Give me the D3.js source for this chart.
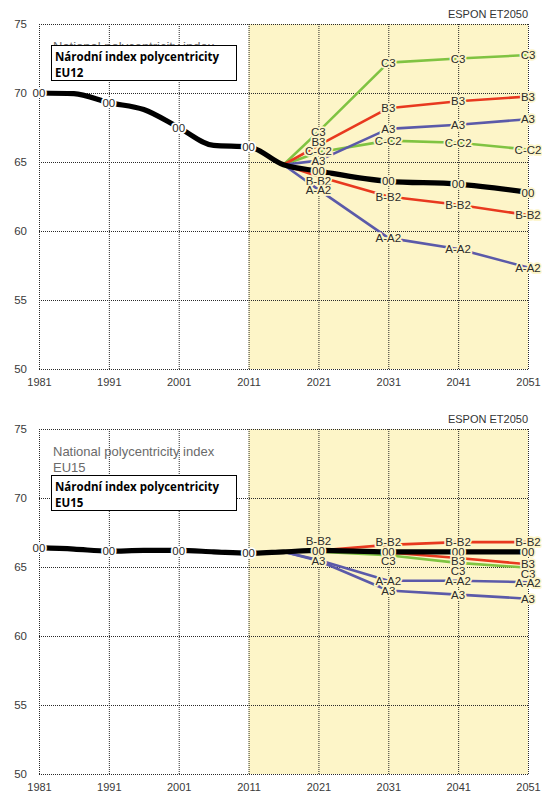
<!DOCTYPE html>
<html>
<head>
<meta charset="utf-8">
<script src="https://cdn.jsdelivr.net/npm/d3@7"></script>
<style>
  html, body { margin: 0; padding: 0; background: #fff; }
  svg { display: block; }
</style>
</head>
<body>
<svg id="chart" width="542" height="793"></svg>
<script>
// ---------- DATA ----------
const histYears = [1981, 1986, 1991, 1996, 2001, 2006, 2011, 2016, 2021, 2031, 2041, 2051];
const scenYears = [2016, 2021, 2031, 2041, 2051];
const labelYears = [1981, 1991, 2001, 2011, 2021, 2031, 2041, 2051];
const xTicks = [1981, 1991, 2001, 2011, 2021, 2031, 2041, 2051];
const yTicks = [50, 55, 60, 65, 70, 75];

// EU12
const eu12_00   = [70.0, 69.95, 69.3, 68.8, 67.5, 66.2, 66.1, 64.8, 64.35, 63.6, 63.4, 62.8];
const eu12_C3   = [64.8, 67.2, 72.2, 72.5, 72.75];
const eu12_B3   = [64.8, 66.2, 68.9, 69.4, 69.75];
const eu12_A3   = [64.8, 65.1, 67.4, 67.7, 68.1];
const eu12_CC2  = [64.8, 65.7, 66.55, 66.4, 65.9];
const eu12_BB2  = [64.8, 63.95, 62.5, 61.9, 61.15];
const eu12_AA2  = [64.8, 63.0, 59.5, 58.7, 57.35];

// EU15
const eu15_00   = [66.4, 66.3, 66.15, 66.2, 66.2, 66.1, 66.0, 66.1, 66.2, 66.1, 66.1, 66.1];
const eu15_BB2  = [66.1, 66.2, 66.6, 66.8, 66.8];
const eu15_B3   = [66.1, 66.2, 66.05, 65.65, 65.2];
const eu15_C3   = [66.1, 66.1, 65.85, 65.3, 64.95];
const eu15_AA2  = [66.1, 65.5, 64.0, 64.0, 63.9];
const eu15_A3   = [66.1, 65.45, 63.3, 63.0, 62.7];

const titleEn = "National polycentricity index";
const titleCz = "Národní index polycentricity";
const source = "ESPON ET2050";

// ---------- STYLE ----------
const colors = { black: "#000000", green: "#80c342", red: "#e8391f", blue: "#5b5aa9" };
const yellow = "#fdf5c8";

const charts = [
  {
    region: "EU12", top: 24, boxTop: 45.5,
    series: [
      { name: "C3",   color: colors.green, values: eu12_C3,  labels: [2021, 2031, 2041, 2051] },
      { name: "C-C2", color: colors.green, values: eu12_CC2, labels: [2021, 2031, 2041, 2051] },
      { name: "B3",   color: colors.red,   values: eu12_B3,  labels: [2021, 2031, 2041, 2051] },
      { name: "B-B2", color: colors.red,   values: eu12_BB2, labels: [2021, 2031, 2041, 2051] },
      { name: "A3",   color: colors.blue,  values: eu12_A3,  labels: [2021, 2031, 2041, 2051] },
      { name: "A-A2", color: colors.blue,  values: eu12_AA2, labels: [2021, 2031, 2041, 2051] }
    ],
    base: eu12_00
  },
  {
    region: "EU15", top: 429, boxTop: 475.5,
    series: [
      { name: "C3",   color: colors.green, values: eu15_C3,  labels: [2031, 2041, 2051] },
      { name: "B3",   color: colors.red,   values: eu15_B3,  labels: [2041, 2051] },
      { name: "B-B2", color: colors.red,   values: eu15_BB2, labels: [2021, 2031, 2041, 2051] },
      { name: "A-A2", color: colors.blue,  values: eu15_AA2, labels: [2031, 2041, 2051] },
      { name: "A3",   color: colors.blue,  values: eu15_A3,  labels: [2021, 2031, 2041, 2051] }
    ],
    base: eu15_00
  }
];

const svg = d3.select("#chart");
const left = 39, right = 528, plotH = 345;
const x = d3.scaleLinear().domain([1981, 2051]).range([left, right]);

charts.forEach(cfg => {
  const y = d3.scaleLinear().domain([50, 75]).range([cfg.top + plotH, cfg.top]);
  const g = svg.append("g");

  // yellow future band
  g.append("rect")
    .attr("x", x(2011)).attr("y", y(75))
    .attr("width", x(2051) - x(2011)).attr("height", y(50) - y(75))
    .attr("fill", yellow);

  // grid
  const gridStyle = sel => sel.attr("stroke", "#2a2a2a").attr("stroke-width", 1)
    .attr("stroke-dasharray", "1,1").attr("fill", "none");
  g.selectAll(".vg").data(xTicks).join("line")
    .attr("x1", d => x(d) + 0.5).attr("x2", d => x(d) + 0.5)
    .attr("y1", y(75)).attr("y2", y(50)).call(gridStyle);
  g.selectAll(".hg").data(yTicks).join("line")
    .attr("x1", x(1981)).attr("x2", x(2051))
    .attr("y1", d => Math.round(y(d)) + 0.5).attr("y2", d => Math.round(y(d)) + 0.5).call(gridStyle);

  // axes (labels only)
  const yAxis = d3.axisLeft(y).tickValues(yTicks).tickSize(0).tickPadding(0);
  const ya = g.append("g").attr("transform", `translate(${left - 12},0)`).call(yAxis);
  ya.select(".domain").remove();
  ya.selectAll("text").attr("font-family", "Liberation Sans, Arial, sans-serif")
    .attr("font-size", 11.5).attr("fill", "#3a3a3a");

  const xAxis = d3.axisBottom(x).tickValues(xTicks).tickFormat(d3.format("d")).tickSize(0).tickPadding(0);
  const xa = g.append("g").attr("transform", `translate(0,${y(50) + 9})`).call(xAxis);
  xa.select(".domain").remove();
  xa.selectAll("text").attr("font-family", "Liberation Sans, Arial, sans-serif")
    .attr("font-size", 11).attr("fill", "#3a3a3a");

  // source
  g.append("text").attr("x", right).attr("y", cfg.top - 6).attr("text-anchor", "end")
    .attr("font-family", "Liberation Sans, Arial, sans-serif").attr("font-size", 11)
    .attr("fill", "#333").text(source);

  // english title (grey)
  const tEn = g.append("text").attr("x", 53).attr("y", cfg.top + 27)
    .attr("font-family", "Liberation Sans, Arial, sans-serif").attr("font-size", 13).attr("fill", "#6a6a6a");
  tEn.append("tspan").attr("x", 53).text(titleEn);
  tEn.append("tspan").attr("x", 53).attr("dy", 16).text(cfg.region);

  // lines
  const line = d3.line().x(d => x(d[0])).y(d => y(d[1]));
  cfg.series.forEach(s => {
    g.append("path").datum(scenYears.map((yr, i) => [yr, s.values[i]]))
      .attr("d", line).attr("fill", "none").attr("stroke", s.color)
      .attr("stroke-width", 2.6).attr("stroke-linejoin", "round").attr("stroke-linecap", "round");
  });
  g.append("path").datum(histYears.map((yr, i) => [yr, cfg.base[i]]))
    .attr("d", line.curve(d3.curveMonotoneX)).attr("fill", "none").attr("stroke", colors.black)
    .attr("stroke-width", 5.2).attr("stroke-linejoin", "round").attr("stroke-linecap", "round");

  // labels with simple vertical stacking around the base label
  const gap = 9.5;
  const labelItems = [];
  labelYears.forEach(yr => {
    const bi = histYears.indexOf(yr);
    const baseVal = cfg.base[bi];
    const anchor = { text: "00", year: yr, v: baseVal, py: y(baseVal) };
    const above = [], below = [];
    cfg.series.forEach(s => {
      if (!s.labels.includes(yr)) return;
      const v = s.values[scenYears.indexOf(yr)];
      const item = { text: s.name, year: yr, v: v, py: y(v) };
      (v >= baseVal ? above : below).push(item);
    });
    above.sort((a, b) => b.py - a.py);
    below.sort((a, b) => a.py - b.py);
    let prev = anchor.py;
    above.forEach(it => { it.py = Math.min(it.py, prev - gap); prev = it.py; });
    prev = anchor.py;
    below.forEach(it => { it.py = Math.max(it.py, prev + gap); prev = it.py; });
    labelItems.push(anchor, ...above, ...below);
  });

  g.selectAll(".lbl").data(labelItems).join("text")
    .attr("x", d => x(d.year)).attr("y", d => d.py)
    .attr("dy", "0.36em").attr("text-anchor", "middle")
    .attr("font-family", "Liberation Sans, Arial, sans-serif").attr("font-size", 11.5)
    .attr("fill", "#2b2b2b")
    .attr("stroke", d => d.year > 2011 ? yellow : "#ffffff")
    .attr("stroke-width", 3.5).attr("stroke-linejoin", "round")
    .attr("paint-order", "stroke")
    .text(d => d.text);

  // czech title box
  g.append("rect").attr("x", 51.5).attr("y", cfg.boxTop).attr("width", 185).attr("height", 35)
    .attr("fill", "#fff").attr("stroke", "#000").attr("stroke-width", 1);
  const tCz = g.append("text").attr("font-family", "Open Sans, Noto Sans, sans-serif")
    .attr("font-weight", 700).attr("font-size", 11.5).attr("fill", "#000");
  tCz.append("tspan").attr("x", 55).attr("y", cfg.boxTop + 15).text(titleCz);
  tCz.append("tspan").attr("x", 55).attr("y", cfg.boxTop + 31).text(cfg.region);
});
</script>
</body>
</html>
